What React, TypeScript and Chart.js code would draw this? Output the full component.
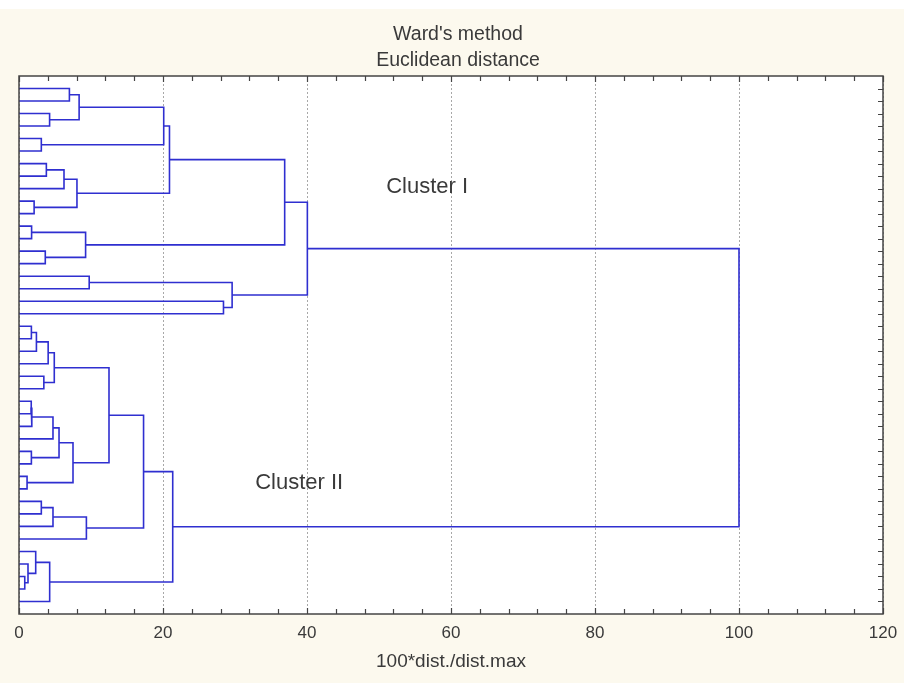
import React, { useEffect, useRef } from 'react';
import { Chart, registerables } from 'chart.js';

Chart.register(...registerables);

// ---- data ----
const leafCount = 42; // leaves listed top to bottom, indices 0..41
// Merges: children are leaf indices (0..41) or earlier merges (42 + merge number)
const mergeA = [0, 2, 42, 4, 44, 6, 47, 9, 48, 46, 11, 13, 52, 51, 15, 17, 56, 55,
  19, 60, 61, 23, 62, 25, 65, 66, 29, 67, 31, 69, 64, 33, 73, 74, 72, 39, 38, 37, 79, 76, 59];
const mergeB = [1, 3, 43, 5, 45, 7, 8, 10, 49, 50, 12, 14, 53, 54, 16, 18, 57, 58,
  20, 21, 22, 24, 63, 26, 27, 28, 30, 68, 32, 70, 71, 34, 35, 36, 75, 40, 77, 78, 41, 80, 81];
const mergeHeight = [7.0, 4.25, 8.35, 3.1, 20.1, 3.8, 6.25, 2.1, 8.05, 20.9, 1.75, 3.65, 9.25, 36.9,
  9.75, 28.4, 29.6, 40.05, 1.72, 2.42, 4.05, 3.45, 4.9, 1.7, 1.78, 4.72, 1.72, 5.56, 1.12, 7.5,
  12.5, 3.1, 4.72, 9.36, 17.3, 0.8, 1.25, 2.32, 4.26, 21.35, 100];
const xTickValues = [0, 20, 40, 60, 80, 100, 120];
const titleLines = ["Ward's method", 'Euclidean distance'];
const xAxisTitle = '100*dist./dist.max';
const clusterLabels = ['Cluster I', 'Cluster II'];
const clusterX = [51.0, 32.8];
const clusterY = [8.9, 32.5];

const CREAM = '#fcf9ee';
const LINE_BLUE = '#2f2fd0';
const TEXT = '#3a3a3a';
const FONT = '"Liberation Sans", Arial, sans-serif';

function buildDatasets() {
  const pos: number[] = [];
  const ht: number[] = [];
  for (let i = 0; i < leafCount; i++) {
    pos[i] = i + 1;
    ht[i] = 0;
  }
  const sets: any[] = [];
  for (let m = 0; m < mergeHeight.length; m++) {
    const a = mergeA[m];
    const b = mergeB[m];
    const h = mergeHeight[m];
    const id = leafCount + m;
    pos[id] = (pos[a] + pos[b]) / 2;
    ht[id] = h;
    sets.push({
      data: [
        { x: ht[a], y: pos[a] },
        { x: h, y: pos[a] },
        { x: h, y: pos[b] },
        { x: ht[b], y: pos[b] },
      ],
      showLine: true,
      borderColor: LINE_BLUE,
      borderWidth: 1.6,
      pointRadius: 0,
      pointHoverRadius: 0,
      tension: 0,
      fill: false,
    });
  }
  return sets;
}

const decor = {
  id: 'decor',
  beforeDraw(chart: any) {
    const { ctx, chartArea: a, width, height } = chart;
    ctx.save();
    ctx.fillStyle = CREAM;
    ctx.fillRect(0, 0, width, height);
    ctx.fillStyle = '#ffffff';
    ctx.fillRect(a.left, a.top, a.right - a.left, a.bottom - a.top);
    ctx.restore();
  },
  afterDraw(chart: any) {
    const { ctx, chartArea: a } = chart;
    const xs = chart.scales.x;
    const ys = chart.scales.y;
    ctx.save();
    // frame
    ctx.strokeStyle = '#444444';
    ctx.lineWidth = 1.5;
    ctx.strokeRect(a.left, a.top, a.right - a.left, a.bottom - a.top);
    // minor ticks on top and bottom (inward)
    ctx.lineWidth = 1.2;
    ctx.beginPath();
    for (let v = 0; v <= 120; v += 4) {
      const px = Math.round(xs.getPixelForValue(v)) + 0.5;
      const len = v % 20 === 0 ? 6 : 5;
      ctx.moveTo(px, a.bottom);
      ctx.lineTo(px, a.bottom - len);
      ctx.moveTo(px, a.top);
      ctx.lineTo(px, a.top + len);
    }
    // ticks on right side for every leaf
    for (let i = 1; i <= leafCount; i++) {
      const py = Math.round(ys.getPixelForValue(i)) + 0.5;
      ctx.moveTo(a.right, py);
      ctx.lineTo(a.right - 5, py);
    }
    ctx.stroke();
    // title
    ctx.fillStyle = TEXT;
    ctx.font = `19.5px ${FONT}`;
    ctx.textAlign = 'center';
    ctx.textBaseline = 'middle';
    const cx = 458;
    ctx.fillText(titleLines[0], cx, 26);
    ctx.fillText(titleLines[1], cx, 52);
    // cluster labels
    ctx.font = `22px ${FONT}`;
    ctx.textAlign = 'left';
    for (let k = 0; k < clusterLabels.length; k++) {
      ctx.fillText(clusterLabels[k], xs.getPixelForValue(clusterX[k]), ys.getPixelForValue(clusterY[k]));
    }
    ctx.restore();
  },
};

export default function App() {
  const ref = useRef<HTMLCanvasElement | null>(null);
  useEffect(() => {
    document.body.style.margin = '0';
    document.body.style.background = '#ffffff';
    const canvas = ref.current!;
    const chart = new Chart(canvas, {
      type: 'scatter',
      data: { datasets: buildDatasets() },
      options: {
        animation: false,
        responsive: false,
        devicePixelRatio: 1,
        events: [],
        layout: { padding: { left: 19, right: 21, top: 67, bottom: 0 } },
        plugins: {
          legend: { display: false },
          tooltip: { enabled: false },
          title: { display: false },
        },
        scales: {
          x: {
            type: 'linear',
            position: 'bottom',
            min: 0,
            max: 120,
            afterBuildTicks: (s: any) => {
              s.ticks = xTickValues.map((v) => ({ value: v }));
            },
            afterFit: (s: any) => {
              s.height = 69;
              s.paddingLeft = 0;
              s.paddingRight = 0;
            },
            ticks: {
              color: TEXT,
              font: { family: FONT, size: 17 },
              padding: 9,
              maxRotation: 0,
            },
            grid: {
              color: '#a8a8a8',
              lineWidth: 1,
              drawTicks: false,
            },
            border: { display: false, dash: [2, 2] },
            title: {
              display: true,
              text: xAxisTitle,
              color: TEXT,
              font: { family: FONT, size: 19, lineHeight: 1.0 },
              padding: { top: 0, bottom: 12 },
            },
          },
          y: {
            type: 'linear',
            display: false,
            min: 0,
            max: leafCount + 1,
            reverse: true,
          },
        },
      },
      plugins: [decor],
    });
    return () => chart.destroy();
  }, []);
  return (
    <div style={{ paddingTop: 9, background: '#ffffff', width: 904 }}>
      <canvas ref={ref} width={904} height={674} style={{ display: 'block', width: 904, height: 674 }} />
    </div>
  );
}
